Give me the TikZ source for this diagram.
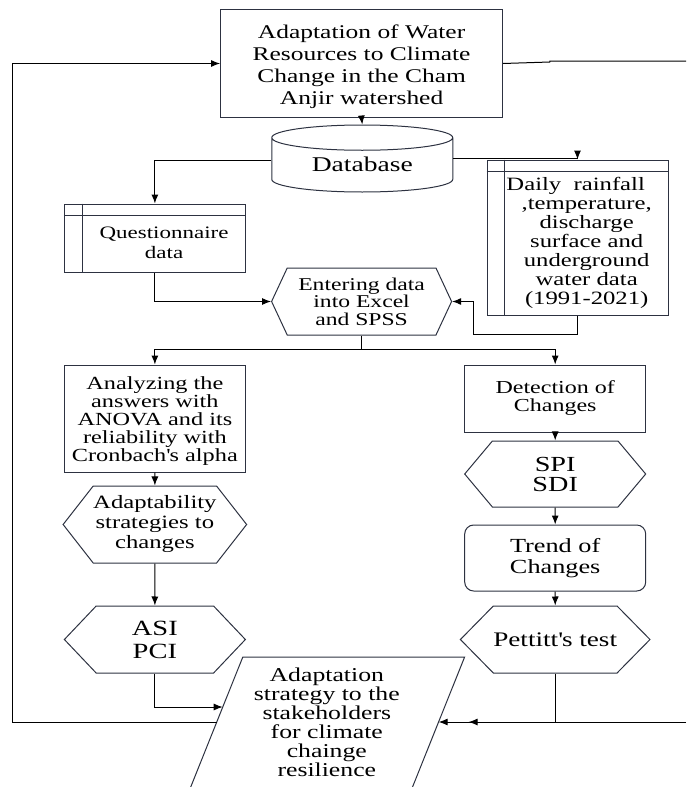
\documentclass[tikz,border=0pt]{standalone}
\usepackage{fontspec}
\setmainfont{Liberation Serif}[FakeStretch=1.3125]
\usetikzlibrary{shapes.geometric, shapes.symbols}
\usetikzlibrary{arrows.meta}
\tikzset{>={Latex[width=7pt,length=9pt]}}
\definecolor{lineColor}{RGB}{45, 50, 65}

\begin{document}
\begin{tikzpicture}[
    x = 1.3125pt, y = -1pt,
    line width = 1pt,
    box/.style = {draw=lineColor, line width=1pt, minimum width=181pt,
        inner sep = 0pt, align=center},
    hexa/.style = {box, signal, signal to=east and west, signal pointer angle=#1},
    fnt/.style 2 args = {font=\fontsize{#1}{#2}\selectfont}
  ]
  \useasboundingbox (0,0) rectangle (522.67,787);
  \clip (0,0) rectangle (522.67,787);

  % top of the chart
  \node[box, minimum width=282pt, minimum height=108pt, fnt={19.4}{22}] (title) at (275.5,63.5)
    {\rule{0pt}{20pt}Adaptation of Water\\Resources to Climate\\Change in the Cham\\Anjir watershed};
  \node[box, cylinder, shape border rotate=90, aspect=0.25, minimum width=181pt,
    minimum height=67pt, fnt={21}{22}, anchor=shape center] (db) at (276,158.5) {\phantom{Database}};
  \node[fnt={21}{22}] (dbText) at (276,164) {Database};

  % data stores
  \node[box, minimum height=68pt] (quest) at (118,238) {};
  \draw[lineColor] ([yshift=-12pt]quest.north west) -- ([yshift=-12pt]quest.north east)
    ([xshift=18.4pt]quest.north west) -- ([xshift=18.4pt]quest.south west);
  \node[fnt={17.5}{20}, align=center] (questText) at (125,243) {Questionnaire\\data};

  \node[box, minimum height=155pt] (rain) at (440,237.5) {};
  \draw[lineColor] ([yshift=-12pt]rain.north west) -- ([yshift=-12pt]rain.north east)
    ([xshift=18.4pt]rain.north west) -- ([xshift=18.4pt]rain.south west);
  \node[fnt={18.8}{19}, align=center] (rainText) at (447,243)
    {Daily~~rainfall\hspace*{22pt}\\,temperature,\hspace*{22pt}\\discharge\\surface and\\underground\\water data\\(1991-2021)};

  \node[hexa=130, minimum width=180pt, minimum height=67pt, fnt={18}{17.5}] (enter) at (275.5,301.5)
    {Entering data\\into Excel\\and SPSS};

  % left branch
  \node[box, minimum height=107pt, fnt={18.5}{18}] (anal) at (118,418.5)
    {\rule{0pt}{17pt}Analyzing the\\answers with\\ANOVA and its\\reliability with\\Cronbach\textquotesingle s alpha};
  \node[hexa=104, minimum height=77pt, fnt={18.8}{20}] (adaptab) at (118,524.5)
    {Adaptability\\strategies to\\changes};
  \node[hexa=93, minimum height=67pt, fnt={21.7}{23}] (asi) at (118,639.5) {ASI\\PCI};

  % right branch
  \node[box, minimum height=67pt, fnt={18.3}{18}] (detect) at (423,398.5) {Detection of\\Changes};
  \node[hexa=100, minimum height=66pt, fnt={21.5}{20}] (spi) at (423,474) {SPI\\SDI};
  \node[box, rounded corners=9pt, minimum height=66pt, fnt={20}{21}] (trend) at (423,558)
    {Trend of\\Changes};
  \node[hexa=91, minimum height=67pt, fnt={20.7}{21}] (pett) at (423,639.5) {Pettitt\textquotesingle s test};

  % result
  \node[fnt={19.6}{19}, align=center] (final) at (249,722.5)
    {Adaptation\\strategy to the\\stakeholders\\for climate\\chainge\\resilience};
  \draw[lineColor] (185,657) -- (354,657) -- (314,788) -- (145,788) -- cycle;
  \coordinate (fIn1) at (169.7,707);
  \coordinate (fIn2) at (334.2,722);
  \coordinate (fOut) at (165.2,722);

  % connectors
  \coordinate (rBend) at (361,334);
  \coordinate (split) at (275.5,349);
  \coordinate (rIn) at (522.67,722);
  \coordinate (rTip) at (357,722);
  \coordinate (lCorner) at (9.5,722);
  \coordinate (tBend) at (419,62);
  \coordinate (tOut) at (522.67,61);

  \draw[->] (title.south) -- (db.north);
  \draw[->] ([yshift=5pt]db.west) -| (quest.north);
  \draw[->] ([yshift=7pt]db.east) -| (rain.north);
  \draw[->] (quest.south) |- (enter.west);
  \draw[->] (rain.south) |- (rBend) |- (enter.east);
  \draw (enter.south) -- (split);
  \draw[->] (split) -| (anal.north);
  \draw[->] (split) -| (detect.north);
  \draw[->] (anal) -- (adaptab);
  \draw[->] (adaptab) -- (asi);
  \draw[->] (detect) -- (spi);
  \draw[->] (spi) -- (trend);
  \draw[->] (trend) -- (pett);
  \draw[->] (asi.south) |- (fIn1);
  \draw[->] (pett.south) |- (fIn2);
  \draw[->] (rIn) -- (rTip);
  \draw[->] (fOut) -- (lCorner) |- (title.west);
  \draw (title.east) -- (tBend) |- (tOut);
\end{tikzpicture}
\end{document}
